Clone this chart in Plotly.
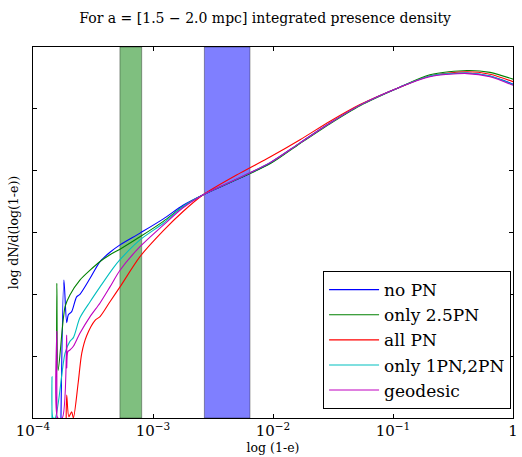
import plotly.graph_objects as go

# ---- data (1-e values and log density) ----
x_nopn = [1.71e-4, 1.81e-4, 1.91e-4, 1.97e-4, 2.10e-4, 2.31e-4, 2.46e-4, 2.99e-4, 3.62e-4, 4.38e-4,
          5.31e-4, 7.79e-4, 1.22e-3, 1.78e-3, 2.62e-3, 5.31e-3, 9.44e-3, 1.68e-2, 2.99e-2, 5.31e-2,
          0.114, 0.203, 0.414, 0.643, 1.0]
y_nopn = [0.0, 2.23, 1.54, 1.67, 1.72, 1.96, 2.00, 2.26, 2.53, 2.68,
          2.80, 2.99, 3.22, 3.44, 3.61, 3.88, 4.12, 4.45, 4.77, 5.06,
          5.35, 5.53, 5.58, 5.53, 5.40]

x_25pn = [1.57e-4, 1.58e-4, 1.62e-4, 1.85e-4, 2.03e-4, 2.46e-4, 2.99e-4, 3.62e-4, 4.38e-4, 5.31e-4,
          7.79e-4, 1.22e-3, 1.78e-3, 2.62e-3, 5.31e-3, 9.44e-3, 1.68e-2, 2.99e-2, 5.31e-2, 0.114,
          0.203, 0.414, 0.643, 1.0]
y_25pn = [0.74, 2.18, 0.77, 1.80, 1.99, 2.23, 2.39, 2.53, 2.64, 2.73,
          2.93, 3.18, 3.42, 3.61, 3.88, 4.11, 4.44, 4.76, 5.05, 5.35,
          5.55, 5.62, 5.59, 5.48]

x_allpn = [1.89e-4, 1.91e-4, 1.99e-4, 2.10e-4, 2.17e-4, 2.38e-4, 2.55e-4, 2.80e-4, 3.29e-4, 3.62e-4,
           4.38e-4, 5.31e-4, 7.79e-4, 1.22e-3, 1.78e-3, 2.62e-3, 5.31e-3, 9.44e-3, 1.68e-2, 2.99e-2,
           5.31e-2, 0.114, 0.203, 0.414, 0.643, 1.0]
y_allpn = [0.0, 0.37, 0.02, 0.10, 0.0, 0.57, 1.05, 1.33, 1.58, 1.64,
           1.88, 2.12, 2.61, 3.03, 3.34, 3.61, 3.96, 4.22, 4.50, 4.80,
           5.07, 5.35, 5.53, 5.60, 5.56, 5.44]

x_12pn = [1.44e-4, 1.44e-4, 1.47e-4, 1.53e-4, 1.85e-4, 2.03e-4, 2.17e-4, 2.46e-4, 2.99e-4, 3.62e-4,
          4.64e-4, 5.31e-4, 7.79e-4, 1.22e-3, 1.78e-3, 2.62e-3, 5.31e-3, 9.44e-3, 1.68e-2, 2.99e-2,
          5.31e-2, 0.114, 0.203, 0.414, 0.643, 1.0]
y_12pn = [0.0, 0.67, 0.0, 0.0, 1.05, 1.24, 1.30, 1.62, 1.88, 2.12,
          2.42, 2.56, 2.88, 3.15, 3.42, 3.61, 3.89, 4.13, 4.45, 4.77,
          5.06, 5.35, 5.53, 5.58, 5.53, 5.39]

x_geo = [1.58e-4, 1.58e-4, 1.61e-4, 1.75e-4, 1.91e-4, 1.91e-4, 1.95e-4, 2.03e-4, 2.17e-4, 2.46e-4,
         2.99e-4, 3.62e-4, 4.38e-4, 5.31e-4, 7.79e-4, 1.22e-3, 1.78e-3, 2.62e-3, 5.31e-3, 9.44e-3,
         1.68e-2, 2.99e-2, 5.31e-2, 0.114, 0.203, 0.414, 0.643, 1.0]
y_geo = [0.0, 1.40, 0.0, 0.0, 1.34, 0.81, 1.07, 1.10, 1.16, 1.37,
         1.64, 1.86, 2.12, 2.39, 2.77, 3.12, 3.40, 3.61, 3.89, 4.13,
         4.45, 4.77, 5.06, 5.35, 5.52, 5.57, 5.52, 5.38]

green_band = [5.3e-4, 8.05e-4]
blue_band = [2.68e-3, 6.43e-3]

series_names = ["no PN", "only 2.5PN", "all PN", "only 1PN,2PN", "geodesic"]
series_x = [x_nopn, x_25pn, x_allpn, x_12pn, x_geo]
series_y = [y_nopn, y_25pn, y_allpn, y_12pn, y_geo]
series_colors = ["#0000ff", "#008000", "#ff0000", "#00bfbf", "#bf00bf"]

SERIF = "DejaVu Serif, Liberation Serif, serif"

fig = go.Figure()
for name, xs, ys, c in zip(series_names, series_x, series_y, series_colors):
    fig.add_trace(go.Scatter(x=xs, y=ys, mode="lines", name=name,
                             line=dict(color=c, width=1.1, shape="spline", smoothing=0.8)))

for band, fill in [(green_band, "rgba(0,128,0,0.5)"), (blue_band, "rgba(0,0,255,0.5)")]:
    fig.add_shape(type="rect", xref="x", yref="paper", x0=band[0], x1=band[1], y0=0, y1=1,
                  fillcolor=fill, line=dict(color="rgba(0,0,0,0.35)", width=1), layer="below")

fig.update_layout(
    width=522, height=457,
    margin=dict(l=33, r=9, t=47, b=39),
    paper_bgcolor="white", plot_bgcolor="white",
    font=dict(family=SERIF, color="black", size=12),
    title=dict(text="For a = [1.5 \u2212 2.0 mpc] integrated presence density",
               x=0.508, xanchor="center", y=0.96, yanchor="middle",
               font=dict(size=14, family=SERIF)),
    legend=dict(x=0.996, xanchor="right", y=0.024, yanchor="bottom",
                bordercolor="black", borderwidth=1, bgcolor="white",
                font=dict(size=17, family=SERIF), tracegroupgap=0,
                itemwidth=50),
    showlegend=True,
)
fig.update_xaxes(type="log", range=[-4, 0], dtick=1, exponentformat="power",
                 showline=True, linecolor="black", linewidth=1, mirror="allticks",
                 ticks="inside", ticklen=4, tickcolor="black", showgrid=False, zeroline=False,
                 automargin=False, ticklabeloverflow="allow",
                 tickfont=dict(size=12, family=SERIF),
                 title=dict(text="log (1-e)", font=dict(size=12.5, family=SERIF), standoff=3))
fig.update_yaxes(range=[0, 6], dtick=1, showticklabels=False,
                 showline=True, linecolor="black", linewidth=1, mirror="allticks",
                 ticks="inside", ticklen=4, tickcolor="black", showgrid=False, zeroline=False,
                 automargin=False,
                 title=dict(text="log dN/d(log(1-e))", font=dict(size=12.5, family=SERIF), standoff=10))

fig.write_html("out.html", config={"displayModeBar": False},
               post_script="document.body.style.margin='0';document.body.style.overflow='hidden';")
